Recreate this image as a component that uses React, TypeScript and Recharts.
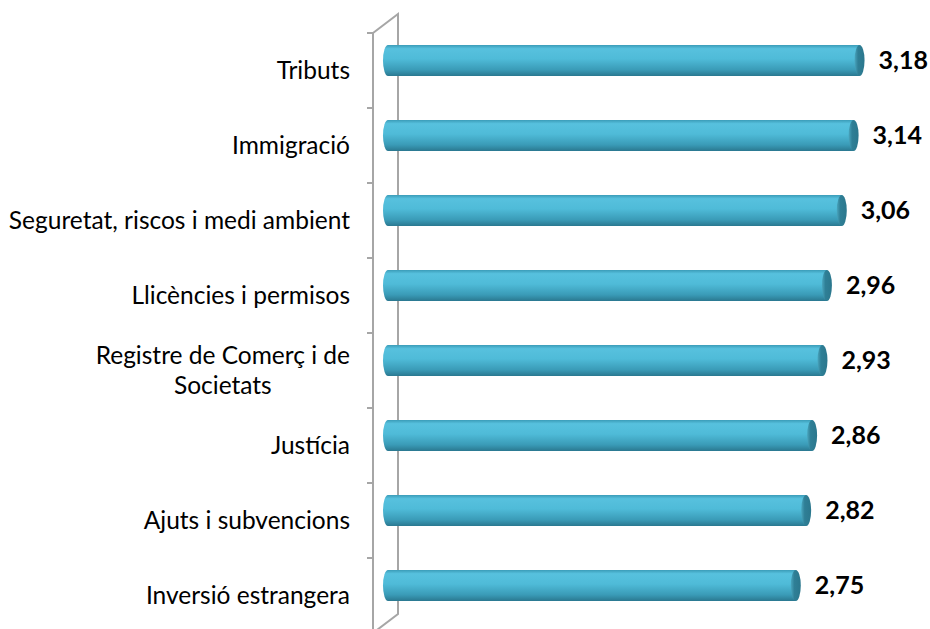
import { Bar, BarChart, LabelList, XAxis, YAxis } from "recharts";

const CATEGORIES = [
  "Tributs",
  "Immigració",
  "Seguretat, riscos i medi ambient",
  "Llicències i permisos",
  "Registre de Comerç i de\nSocietats",
  "Justícia",
  "Ajuts i subvencions",
  "Inversió estrangera",
];
const VALUES = [3.18, 3.14, 3.06, 2.96, 2.93, 2.86, 2.82, 2.75];

const data = CATEGORIES.map((c, i) => ({ name: c, value: VALUES[i] }));

const W = 930;
const H = 640;
const M = { top: 33, right: 38, bottom: 7, left: 0 };
const AXIS_W = 373;
// depth offset of the 3D wall / bars
const DX = 25;
const DY = 19;
const BAR_DX = 15;
const BAR_DY = -10;
const CAP = 5;
const LABEL_FONT = "Lato, 'Open Sans', sans-serif";
const WALL = "#a6a6a6";

let ctx: CanvasRenderingContext2D | null = null;
function textWidth(s: string, font: string) {
  if (!ctx) ctx = document.createElement("canvas").getContext("2d");
  if (!ctx) return s.length * 11;
  ctx.font = font;
  return ctx.measureText(s).width;
}

function CatTick(props: any) {
  const { x, y, payload } = props;
  const lines = String(payload.value).split("\n");
  const fs = 24.5;
  if (lines.length === 1) {
    return (
      <text x={x} y={y + 8} textAnchor="end" fontSize={fs} fontFamily={LABEL_FONT} fill="#000">
        {lines[0]}
      </text>
    );
  }
  const maxW = Math.max(...lines.map((l) => textWidth(l, `${fs}px Lato`)));
  const cx = x - maxW / 2;
  const lh = 30;
  const y0 = y - ((lines.length - 1) * lh) / 2 + 8;
  return (
    <text textAnchor="middle" fontSize={fs} fontFamily={LABEL_FONT} fill="#000">
      {lines.map((l, i) => (
        <tspan key={i} x={cx} y={y0 + i * lh}>
          {l}
        </tspan>
      ))}
    </text>
  );
}

function Cylinder(props: any) {
  const { x, y, width, height } = props;
  const x0 = x + BAR_DX;
  const x1 = x + width + BAR_DX;
  const yt = y + BAR_DY;
  const r = height / 2;
  const body = `M ${x0} ${yt} L ${x1} ${yt} L ${x1} ${yt + height} L ${x0} ${yt + height} A ${CAP} ${r} 0 0 1 ${x0} ${yt} Z`;
  return (
    <g>
      <path d={body} fill="url(#cylBody)" />
      <ellipse cx={x1} cy={yt + r} rx={CAP} ry={r} fill="url(#cylCap)" />
    </g>
  );
}

function ValueLabel(props: any) {
  const { x, y, width, height, value } = props;
  return (
    <text
      x={x + width + BAR_DX + CAP + 14}
      y={y + BAR_DY + height / 2 + 8.5}
      fontSize={25}
      fontWeight="bold"
      fontFamily={LABEL_FONT}
      fill="#000"
    >
      {Number(value).toFixed(2).replace(".", ",")}
    </text>
  );
}

function Wall() {
  const left = M.left + AXIS_W;
  const top = M.top;
  const bottom = H - M.bottom;
  const n = CATEGORIES.length;
  const band = (bottom - top) / n;
  const ticks = Array.from({ length: n + 1 }, (_, i) => top + i * band);
  return (
    <g>
      <polyline
        points={`${left},${top} ${left + DX},${top - DY} ${left + DX},${bottom - DY} ${left},${bottom}`}
        fill="none"
        stroke={WALL}
        strokeWidth={2}
      />
      <line x1={left} y1={top} x2={left} y2={bottom} stroke={WALL} strokeWidth={2} />
      {ticks.map((t) => (
        <line key={t} x1={left - 6} y1={t} x2={left} y2={t} stroke={WALL} strokeWidth={2} />
      ))}
    </g>
  );
}

export default function App() {
  return (
    <div
      style={{
        position: "absolute",
        left: 0,
        top: 0,
        width: 930,
        height: 629,
        overflow: "hidden",
        background: "#fff",
      }}
    >
      <BarChart width={W} height={H} data={data} layout="vertical" margin={M} barSize={31}>
        <defs>
          <linearGradient id="cylBody" x1="0" y1="0" x2="0" y2="1">
            <stop offset="0%" stopColor="#3b9cb8" />
            <stop offset="12%" stopColor="#57c1de" />
            <stop offset="45%" stopColor="#4fbbd8" />
            <stop offset="80%" stopColor="#3a9bb7" />
            <stop offset="100%" stopColor="#2a7890" />
          </linearGradient>
          <linearGradient id="cylCap" x1="0" y1="0" x2="1" y2="0">
            <stop offset="0%" stopColor="#4aa6bf" />
            <stop offset="35%" stopColor="#2f7f96" />
            <stop offset="100%" stopColor="#2b778d" />
          </linearGradient>
        </defs>
        <Wall />
        <XAxis type="number" domain={[0, 3.5]} hide />
        <YAxis
          type="category"
          dataKey="name"
          width={AXIS_W}
          axisLine={false}
          tickLine={false}
          tickSize={0}
          tickMargin={23}
          interval={0}
          tick={<CatTick />}
        />
        <Bar dataKey="value" shape={<Cylinder />} isAnimationActive={false}>
          <LabelList dataKey="value" content={<ValueLabel />} />
        </Bar>
      </BarChart>
    </div>
  );
}
